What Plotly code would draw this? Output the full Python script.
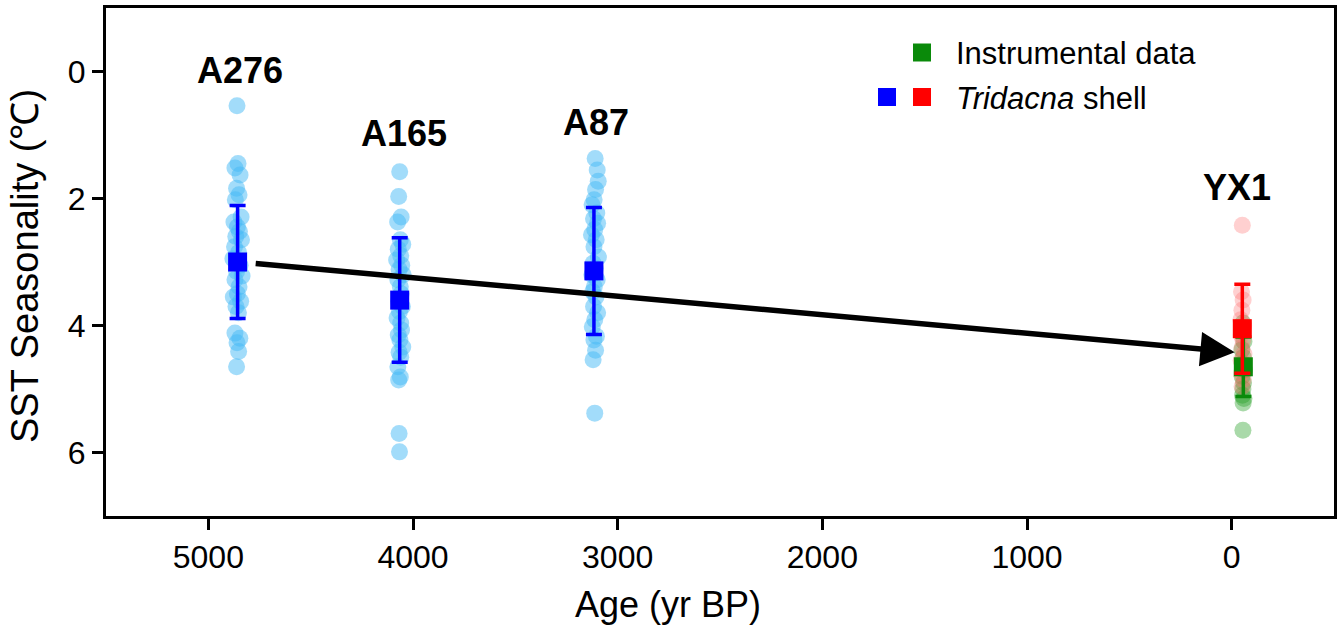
import plotly.graph_objects as go

# ---------------- data ----------------
sample_names = ["A276", "A165", "A87", "YX1"]

a276_age = [4860, 4855, 4870, 4845, 4862, 4850, 4868, 4840, 4875, 4858, 4848, 4866, 4838, 4872, 4852,
            4880, 4845, 4862, 4835, 4870, 4850, 4858, 4878, 4842, 4865, 4853, 4870, 4846, 4860, 4852, 4862]
a276_sst = [0.54, 1.45, 1.52, 1.63, 1.84, 1.94, 2.02, 2.29, 2.37, 2.45, 2.52, 2.6, 2.65, 2.76, 2.85,
            2.95, 3.05, 3.15, 3.22, 3.28, 3.39, 3.5, 3.55, 3.62, 3.7, 3.8, 4.12, 4.2, 4.27, 4.41, 4.65]

a165_age = [4065, 4070, 4058, 4075, 4062, 4050, 4072, 4060, 4080, 4055, 4068, 4048, 4074, 4062, 4058,
            4070, 4052, 4066, 4078, 4060, 4056, 4072, 4064, 4050, 4068, 4060, 4074, 4062, 4070, 4068, 4066]
a165_sst = [1.58, 1.97, 2.29, 2.37, 2.65, 2.72, 2.8, 2.9, 2.97, 3.05, 3.12, 3.2, 3.28, 3.39, 3.5,
            3.62, 3.7, 3.78, 3.88, 3.96, 4.07, 4.15, 4.23, 4.34, 4.42, 4.5, 4.65, 4.81, 4.86, 5.7, 5.99]

a87_age = [3110, 3100, 3095, 3108, 3115, 3125, 3102, 3118, 3098, 3112, 3128, 3105, 3116, 3094, 3120,
           3110, 3126, 3100, 3114, 3122, 3106, 3118, 3098, 3112, 3124, 3104, 3116, 3108, 3120, 3112]
a87_sst = [1.37, 1.55, 1.73, 1.86, 2.02, 2.1, 2.23, 2.32, 2.39, 2.49, 2.57, 2.65, 2.76, 2.92, 3.02,
           3.1, 3.2, 3.28, 3.39, 3.47, 3.55, 3.7, 3.8, 3.91, 4.02, 4.17, 4.23, 4.39, 4.54, 5.38]

yx1_shell_age = [-52, -48, -56, -50, -45, -58, -52, -47, -55, -50, -60, -46, -53, -49, -57, -51]
yx1_shell_sst = [2.42, 3.47, 3.6, 3.76, 3.91, 4.0, 4.07, 4.15, 4.23, 4.35, 4.45, 4.55, 4.65, 4.75, 4.85, 4.96]

instr_age = [-55, -52, -60, -50, -57, -54, -62, -51, -58, -55, -53, -60, -56, -55]
instr_sst = [3.96, 4.1, 4.25, 4.38, 4.5, 4.6, 4.7, 4.8, 4.9, 5.0, 5.1, 5.15, 5.22, 5.65]

# means and 1-sigma
shell_mean_age = [4857, 4065, 3116]
shell_mean_sst = [3.0, 3.6, 3.14]
shell_sd = [0.89, 0.98, 1.0]

yx1_mean_age = [-52]
yx1_mean_sst = [4.05]
yx1_sd = [0.7]

instr_mean_age = [-57]
instr_mean_sst = [4.65]
instr_sd = [0.47]

# trend arrow (start -> end)
trend_age = [4776, -15]
trend_sst = [3.02, 4.42]

x_ticks = [5000, 4000, 3000, 2000, 1000, 0]
y_ticks = [0, 2, 4, 6]

# ---------------- figure ----------------
FONT = "Liberation Sans, Arial, sans-serif"
BLUE_DOT = "rgba(70,185,245,0.5)"
RED_DOT = "rgba(255,110,110,0.32)"
GREEN_DOT = "rgba(40,160,40,0.4)"

fig = go.Figure()

dot = dict(size=17, line=dict(width=0))
for ages, vals in [(a276_age, a276_sst), (a165_age, a165_sst), (a87_age, a87_sst)]:
    fig.add_trace(go.Scatter(x=ages, y=vals, mode="markers",
                             marker=dict(color=BLUE_DOT, **dot), showlegend=False, hoverinfo="skip"))
fig.add_trace(go.Scatter(x=instr_age, y=instr_sst, mode="markers",
                         marker=dict(color=GREEN_DOT, **dot), showlegend=False, hoverinfo="skip"))
fig.add_trace(go.Scatter(x=yx1_shell_age, y=yx1_shell_sst, mode="markers",
                         marker=dict(color=RED_DOT, **dot), showlegend=False, hoverinfo="skip"))

def mean_trace(x, y, sd, color):
    return go.Scatter(x=x, y=y, mode="markers",
                      marker=dict(symbol="square", size=19, color=color, line=dict(width=0)),
                      error_y=dict(type="data", array=sd, visible=True, color=color,
                                   thickness=3.5, width=8),
                      showlegend=False)

fig.add_trace(mean_trace(shell_mean_age, shell_mean_sst, shell_sd, "#0000ff"))
fig.add_trace(mean_trace(instr_mean_age, instr_mean_sst, instr_sd, "#0a8a0a"))
fig.add_trace(mean_trace(yx1_mean_age, yx1_mean_sst, yx1_sd, "#ff0000"))

annotations = []
# sample labels
label_pos = [(4844, -0.02), (4046, 0.97), (3106, 0.81), (-24, 1.82)]
for name, (lx, ly) in zip(sample_names, label_pos):
    annotations.append(dict(x=lx, y=ly, xref="x", yref="y", text=f"<b>{name}</b>", showarrow=False,
                            font=dict(family=FONT, size=36, color="black"),
                            xanchor="center", yanchor="middle"))
# trend arrow
annotations.append(dict(x=trend_age[1], y=trend_sst[1], ax=trend_age[0], ay=trend_sst[0],
                        xref="x", yref="y", axref="x", ayref="y", text="", showarrow=True,
                        arrowhead=2, arrowsize=1.25, arrowwidth=5.5, arrowcolor="black"))
# legend text
annotations.append(dict(x=0.6905, y=0.9114, xref="paper", yref="paper", text="Instrumental data",
                        showarrow=False, xanchor="left", yanchor="middle",
                        font=dict(family=FONT, size=31, color="black")))
annotations.append(dict(x=0.6905, y=0.8228, xref="paper", yref="paper", text="<i>Tridacna</i> shell",
                        showarrow=False, xanchor="left", yanchor="middle",
                        font=dict(family=FONT, size=31, color="black")))
# axis titles
annotations.append(dict(x=0.458, y=-0.175, xref="paper", yref="paper", text="Age (yr BP)",
                        showarrow=False, xanchor="center", yanchor="middle",
                        font=dict(family=FONT, size=36, color="black")))
annotations.append(dict(x=-0.066, y=0.492, xref="paper", yref="paper", text="SST Seasonality (℃)",
                        showarrow=False, xanchor="center", yanchor="middle", textangle=-90,
                        font=dict(family=FONT, size=38, color="black")))

shapes = []
for cx, cy, col in [(0.6645, 0.9124, "#0a8a0a"), (0.636, 0.8248, "#0000ff"), (0.6645, 0.8248, "#ff0000")]:
    shapes.append(dict(type="rect", xref="paper", yref="paper", xsizemode="pixel", ysizemode="pixel",
                       xanchor=cx, yanchor=cy, x0=-9, x1=9, y0=-9, y1=9,
                       fillcolor=col, line=dict(width=0)))

axis_common = dict(showline=True, mirror=True, linecolor="black", linewidth=3,
                   ticks="outside", ticklen=11, tickwidth=2.5, tickcolor="black",
                   showgrid=False, zeroline=False,
                   tickfont=dict(family=FONT, size=32, color="black"))

fig.update_layout(
    width=1342, height=628,
    margin=dict(l=106, r=5, t=8, b=112),
    paper_bgcolor="white", plot_bgcolor="white",
    xaxis=dict(range=[5500, -500], tickvals=x_ticks, ticktext=[str(v) for v in x_ticks], **axis_common),
    yaxis=dict(range=[7, -1], tickvals=y_ticks, ticktext=[str(v) for v in y_ticks], **axis_common),
    annotations=annotations,
    shapes=shapes,
    showlegend=False,
)

fig.write_html("out.html")
